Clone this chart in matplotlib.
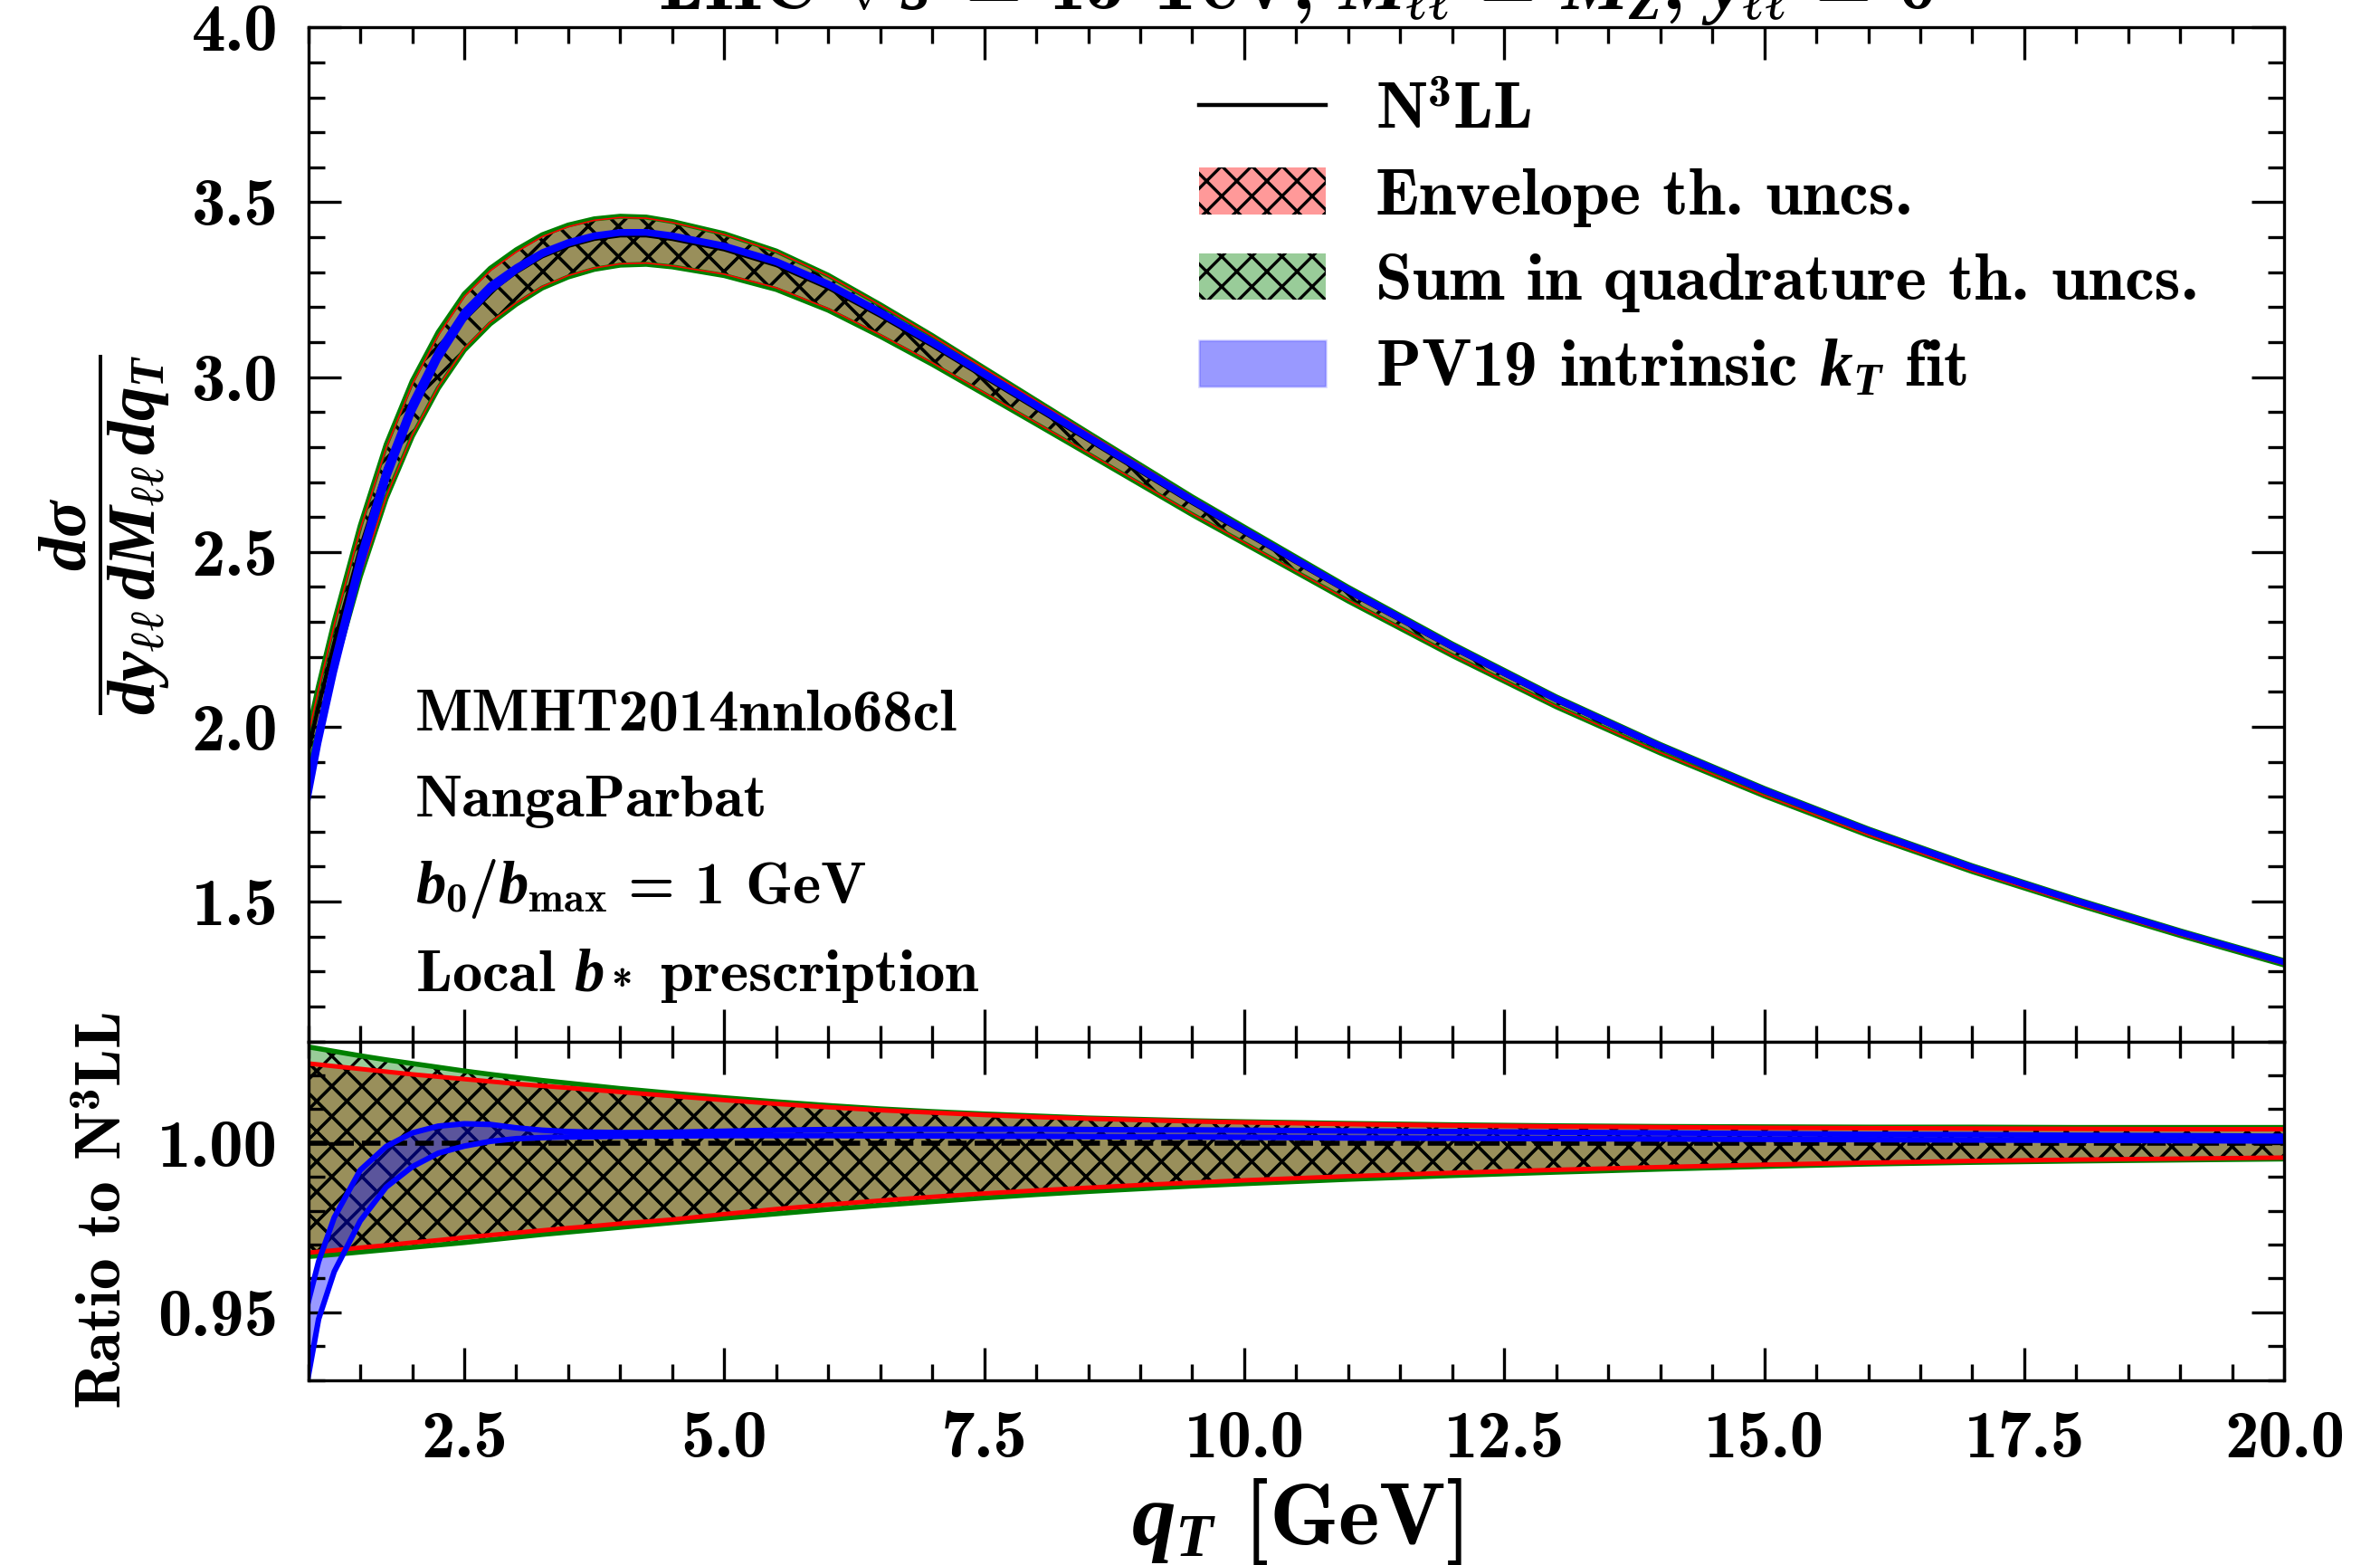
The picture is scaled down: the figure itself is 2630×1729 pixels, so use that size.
import numpy as np
import matplotlib
matplotlib.use("Agg")
import matplotlib.pyplot as plt
from matplotlib.ticker import MultipleLocator
from matplotlib.lines import Line2D
from matplotlib.patches import Patch

# Computer Modern bold look for text, bold italic for math
plt.rcParams["font.family"] = ["cmb10", "DejaVu Serif"]
plt.rcParams["mathtext.fontset"] = "custom"
plt.rcParams["mathtext.rm"] = "cmb10"
plt.rcParams["mathtext.bf"] = "cmb10"
plt.rcParams["mathtext.it"] = "Liberation Serif:italic:bold"
plt.rcParams["mathtext.fallback"] = "cm"
plt.rcParams["axes.unicode_minus"] = False
plt.rcParams["hatch.linewidth"] = 0.6

# qT grid [GeV]
qT = [1.0, 1.1, 1.25, 1.5, 1.75, 2.0, 2.25, 2.5, 2.75, 3.0, 3.25, 3.5, 3.75, 4.0,
      4.25, 4.5, 5.0, 5.5, 6.0, 6.5, 7.0, 7.5, 8.0, 8.5, 9.0, 9.5, 10.0, 11.0,
      12.0, 13.0, 14.0, 15.0, 16.0, 17.0, 18.0, 19.0, 20.0]

# N3LL central prediction
n3ll = [1.93, 2.06, 2.24, 2.51, 2.74, 2.92, 3.06, 3.17, 3.245, 3.30, 3.345, 3.375,
        3.395, 3.405, 3.405, 3.395, 3.365, 3.32, 3.255, 3.175, 3.09, 3.00, 2.91,
        2.82, 2.73, 2.64, 2.555, 2.385, 2.225, 2.075, 1.94, 1.815, 1.70, 1.595,
        1.50, 1.41, 1.325]

# envelope of theory uncertainties (ratio to N3LL)
env_up = [1.0235, 1.0232, 1.0227, 1.0219, 1.0211, 1.0203, 1.0196, 1.0189, 1.0182,
          1.0175, 1.0169, 1.0163, 1.0157, 1.0151, 1.0145, 1.0139, 1.0127, 1.0116,
          1.0106, 1.0097, 1.0090, 1.0083, 1.0077, 1.0072, 1.0068, 1.0064, 1.0061,
          1.0056, 1.0052, 1.0049, 1.0047, 1.0045, 1.0044, 1.0043, 1.0042, 1.0041,
          1.0041]
env_lo = [0.9676, 0.9679, 0.9683, 0.9691, 0.9698, 0.9706, 0.9713, 0.9721, 0.9728,
          0.9735, 0.9742, 0.9749, 0.9755, 0.9762, 0.9768, 0.9774, 0.9790, 0.9805,
          0.9818, 0.9830, 0.9841, 0.9851, 0.9860, 0.9868, 0.9876, 0.9883, 0.9890,
          0.9902, 0.9912, 0.9921, 0.9929, 0.9936, 0.9942, 0.9947, 0.9951, 0.9954,
          0.9957]

# sum in quadrature of theory uncertainties (ratio to N3LL)
qua_up = [1.0284, 1.0279, 1.0271, 1.0258, 1.0246, 1.0235, 1.0224, 1.0213, 1.0203,
          1.0194, 1.0185, 1.0177, 1.0169, 1.0161, 1.0154, 1.0147, 1.0134, 1.0122,
          1.0111, 1.0101, 1.0093, 1.0086, 1.0080, 1.0074, 1.0070, 1.0066, 1.0063,
          1.0058, 1.0054, 1.0051, 1.0049, 1.0048, 1.0047, 1.0047, 1.0046, 1.0046,
          1.0046]
qua_lo = [0.9665, 0.9667, 0.9671, 0.9678, 0.9685, 0.9692, 0.9699, 0.9706, 0.9714,
          0.9722, 0.9730, 0.9737, 0.9744, 0.9751, 0.9758, 0.9765, 0.9778, 0.9791,
          0.9804, 0.9816, 0.9827, 0.9838, 0.9848, 0.9857, 0.9865, 0.9873, 0.9880,
          0.9893, 0.9904, 0.9914, 0.9923, 0.9931, 0.9938, 0.9943, 0.9947, 0.9950,
          0.9953]

# PV19 intrinsic kT fit band (ratio to N3LL)
pv_lo = [0.931, 0.948, 0.962, 0.977, 0.987, 0.993, 0.997, 0.9991, 1.0005, 1.0013,
         1.0016, 1.0018, 1.0019, 1.0020, 1.0021, 1.0021, 1.0022, 1.0022, 1.0022,
         1.0021, 1.0021, 1.0020, 1.0020, 1.0019, 1.0018, 1.0018, 1.0017, 1.0015,
         1.0014, 1.0013, 1.0012, 1.0011, 1.0010, 1.0009, 1.0008, 1.0007, 1.0006]
pv_hi = [0.953, 0.965, 0.978, 0.992, 0.999, 1.003, 1.0050, 1.0057, 1.0055, 1.0045,
         1.0038, 1.0034, 1.0032, 1.0031, 1.0031, 1.0032, 1.0035, 1.0038, 1.0040,
         1.0041, 1.0041, 1.0041, 1.0041, 1.0040, 1.0039, 1.0039, 1.0038, 1.0036,
         1.0034, 1.0032, 1.0030, 1.0028, 1.0026, 1.0025, 1.0023, 1.0022, 1.0020]

x = np.array(qT)
c = np.array(n3ll)

red_fill = (1, 0, 0, 0.4)
green_fill = (0, 0.5, 0, 0.4)
blue_fill = (0, 0, 1, 0.4)
hatch = "xxxx"

fig = plt.figure(figsize=(6.575, 4.3225), dpi=400)
ax1 = fig.add_axes([0.1295, 0.3345, 0.8303, 0.648])
ax2 = fig.add_axes([0.1295, 0.1182, 0.8303, 0.2163])


def draw_bands(ax, scale, red_lw):
    ax.fill_between(x, scale * np.array(env_lo), scale * np.array(env_up),
                    facecolor=red_fill, edgecolor="k", hatch=hatch, linewidth=0)
    ax.fill_between(x, scale * np.array(qua_lo), scale * np.array(qua_up),
                    facecolor=green_fill, edgecolor="k", hatch=hatch, linewidth=0)
    ax.plot(x, scale * np.array(qua_up), color="green", lw=1.0)
    ax.plot(x, scale * np.array(qua_lo), color="green", lw=1.0)
    ax.plot(x, scale * np.array(env_up), color="red", lw=red_lw)
    ax.plot(x, scale * np.array(env_lo), color="red", lw=red_lw)


# upper panel
draw_bands(ax1, c, 0.3)
ax1.plot(x, c, color="k", lw=0.8)
ax1.fill_between(x, c * np.array(pv_lo), c * np.array(pv_hi), facecolor=blue_fill, linewidth=0)
ax1.plot(x, c * np.array(pv_lo), color="blue", lw=1.1)
ax1.plot(x, c * np.array(pv_hi), color="blue", lw=1.1)

# ratio panel
draw_bands(ax2, 1.0, 0.9)
ax2.plot(x, np.ones_like(x), color="k", lw=1.0, ls="--")
ax2.fill_between(x, pv_lo, pv_hi, facecolor=blue_fill, linewidth=0)
ax2.plot(x, pv_lo, color="blue", lw=1.1)
ax2.plot(x, pv_hi, color="blue", lw=1.1)

ax1.set_xlim(1, 20)
ax1.set_ylim(1.1, 4.0)
ax2.set_xlim(1, 20)
ax2.set_ylim(0.93, 1.03)

for ax in (ax1, ax2):
    ax.xaxis.set_major_locator(MultipleLocator(2.5))
    ax.xaxis.set_minor_locator(MultipleLocator(0.5))
    ax.tick_params(which="both", direction="in", top=True, right=True, width=0.6,
                   labelsize=13.5, pad=6)
    ax.tick_params(which="major", length=6.5)
    ax.tick_params(which="minor", length=3.2)
    for s in ax.spines.values():
        s.set_linewidth(0.6)

ax1.yaxis.set_major_locator(MultipleLocator(0.5))
ax1.yaxis.set_minor_locator(MultipleLocator(0.1))
ax1.tick_params(labelbottom=False)
ax2.yaxis.set_major_locator(MultipleLocator(0.05))
ax2.yaxis.set_minor_locator(MultipleLocator(0.01))

ax1.set_ylabel(r"$\dfrac{d\sigma}{dy_{\ell\ell}\,dM_{\ell\ell}\,dq_T}$", fontsize=13.5)
ax1.yaxis.set_label_coords(-0.069, 0.5)
ax2.set_ylabel(r"Ratio to N$^3$LL", fontsize=12.5)
ax2.yaxis.set_label_coords(-0.088, 0.5)
ax2.set_xlabel(r"$q_T$ [GeV]", fontsize=17.5)
ax2.xaxis.set_label_coords(0.5, -0.285)

# info text
info = ["MMHT2014nnlo68cl", "NangaParbat", r"$b_0/b_{\mathrm{max}}$ = 1 GeV",
        r"Local $b_*$ prescription"]
for t, yy in zip(info, [0.307, 0.222, 0.136, 0.0496]):
    ax1.text(0.054, yy, t, transform=ax1.transAxes, fontsize=12, va="baseline")

handles = [
    Line2D([], [], color="k", lw=0.8),
    Patch(facecolor=red_fill, edgecolor="k", hatch=hatch, linewidth=0),
    Patch(facecolor=green_fill, edgecolor="k", hatch=hatch, linewidth=0),
    Patch(facecolor=blue_fill, edgecolor=(0, 0, 1, 0.15), linewidth=0.5),
]
labels = [r"N$^3$LL", "Envelope th. uncs.", "Sum in quadrature th. uncs.",
          r"PV19 intrinsic $k_T$ fit"]
ax1.legend(handles, labels, loc="upper left", bbox_to_anchor=(0.451, 0.946),
           frameon=False, fontsize=13.2, borderpad=0, borderaxespad=0,
           handlelength=1.9, handletextpad=0.75, labelspacing=0.4)

fig.text(0.5446, 1 - 10 / 1729,
         r"LHC $\sqrt{s}$ = 13 TeV, $M_{\ell\ell}$ = $M_Z$, $y_{\ell\ell}$ = 0",
         ha="center", va="baseline", fontsize=15)

fig.savefig("out.png", dpi=400)
